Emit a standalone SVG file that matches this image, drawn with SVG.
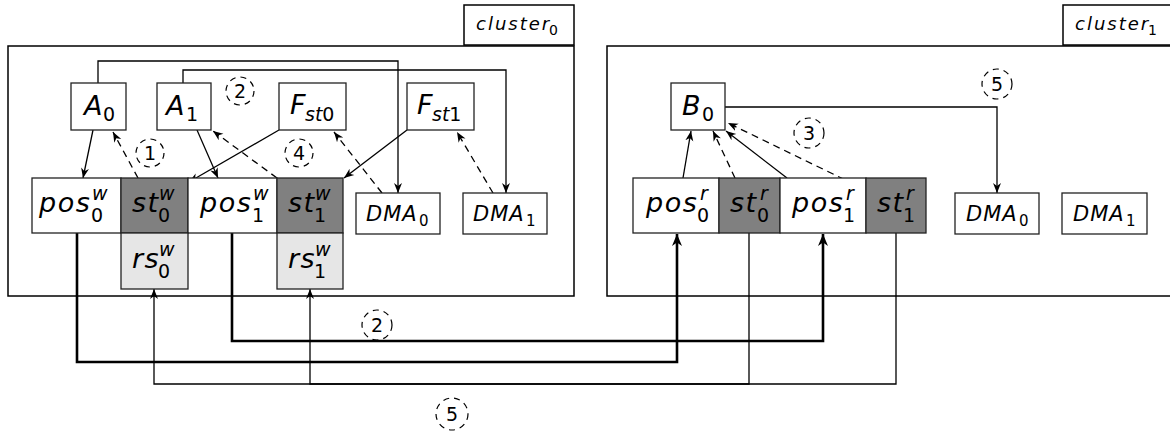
<svg xmlns="http://www.w3.org/2000/svg" width="1170" height="437" viewBox="0 0 1170 437">
<defs>
<marker id="ah" markerUnits="userSpaceOnUse" markerWidth="12" markerHeight="10" refX="10" refY="5" orient="auto" viewBox="0 0 12 10"><path d="M0,1 L10,5 L0,9 L3,5 z" fill="#000"/></marker>
<marker id="ahb" markerUnits="userSpaceOnUse" markerWidth="14" markerHeight="12" refX="12" refY="6" orient="auto" viewBox="0 0 14 12"><path d="M0,1 L12,6 L0,11 L3.5,6 z" fill="#000"/></marker>
<style>
.cl{fill:#fff;stroke:#000;stroke-width:1.5}
.box{fill:#fff;stroke:#222;stroke-width:1.3}
.dk{fill:#808080;stroke:#222;stroke-width:1.3}
.lt{fill:#e6e6e6;stroke:#222;stroke-width:1.3}
.c{fill:none;stroke:#000;stroke-width:1.3}
.a{marker-end:url(#ah)}
.d{stroke-dasharray:7 5}
.t{stroke-width:2.6;marker-end:url(#ahb)}
.m{font-family:"DejaVu Sans",sans-serif;font-style:italic;font-size:27px;letter-spacing:1.5px;fill:#000}
.sb{font-family:"DejaVu Sans",sans-serif;font-style:normal;font-size:19px;letter-spacing:0;fill:#000}
.sp{font-family:"DejaVu Sans",sans-serif;font-style:italic;font-size:19px;fill:#000}
.dm{font-family:"DejaVu Sans",sans-serif;font-style:italic;font-size:21px;letter-spacing:1px;fill:#000}
.dms{font-family:"DejaVu Sans",sans-serif;font-size:15px;fill:#000}
.cn{font-family:"DejaVu Sans",sans-serif;font-style:italic;font-size:18px;letter-spacing:2px;fill:#000}
.cns{font-family:"DejaVu Sans",sans-serif;font-size:14px;fill:#000}
.num{font-family:"DejaVu Sans",sans-serif;font-size:19px;text-anchor:middle;fill:#000}
.circ{fill:none;stroke:#000;stroke-width:1.2;stroke-dasharray:6 5}
</style>
</defs>
<rect width="1170" height="437" fill="#fff"/>

<g id="cluster0">
<rect class="cl" x="8" y="46" width="566" height="250"/>
<rect class="cl" x="464" y="5" width="110" height="40"/>
<text class="cn" x="476" y="30">cluster</text><text class="cns" x="549" y="35">0</text>
</g>
<g id="cluster1">
<rect class="cl" x="607" y="46" width="566" height="250"/>
<rect class="cl" x="1063" y="5" width="110" height="40"/>
<text class="cn" x="1075" y="30">cluster</text><text class="cns" x="1148" y="35">1</text>
</g>

<g id="connectors">
<path class="c a" d="M93,130 L83,178"/>
<path class="c a d" d="M138,178 L113,132"/>
<path class="c a" d="M197,130 L218,178"/>
<path class="c a" d="M279,130 L189,182"/>
<path class="c a d" d="M277,178 L213,131"/>
<path class="c a d" d="M382,193 L334,132"/>
<path class="c a" d="M407,130 L344,178"/>
<path class="c a d" d="M493,193 L457,132"/>
<path class="c a" d="M98,83 V61 H398 V193"/>
<path class="c a" d="M183,83 V70 H506 V193"/>
<path class="c t" d="M77,233 V362 H677 V234"/>
<path class="c t" d="M232,233 V341 H823 V234"/>
<path class="c a" d="M749,233 V384 H154 V289"/>
<path class="c a" d="M896,233 V384 H310 V289"/>
<path class="c a" d="M683,178 L691,131"/>
<path class="c a d" d="M735,178 L713,131"/>
<path class="c a" d="M787,178 L726,131"/>
<path class="c a d" d="M866,190 L728,123"/>
<path class="c a" d="M725,107 H997 V193"/>
</g>

<g id="A0"><rect class="box" x="71" y="83" width="55" height="47"/><text class="m" x="84" y="115">A</text><text class="sb" x="103" y="121">0</text></g>
<g id="A1"><rect class="box" x="157" y="83" width="54" height="47"/><text class="m" x="166" y="115">A</text><text class="sb" x="186" y="121">1</text></g>
<g id="Fst0"><rect class="box" x="279" y="83" width="67" height="47"/><text class="m" x="290" y="114">F</text><text class="sp" x="305" y="121">st<tspan class="sb">0</tspan></text></g>
<g id="Fst1"><rect class="box" x="407" y="83" width="67" height="47"/><text class="m" x="417" y="114">F</text><text class="sp" x="432" y="121">st<tspan class="sb">1</tspan></text></g>

<g id="pos0w"><rect class="box" x="32" y="178" width="89" height="55"/><text class="m" x="39" y="212">pos</text><text class="sb" x="91" y="222">0</text><text class="sp" x="92" y="200">w</text></g>
<g id="st0w"><rect class="dk" x="121" y="178" width="67" height="55"/><text class="m" x="132" y="212">st</text><text class="sb" x="158" y="222">0</text><text class="sp" x="159" y="200">w</text></g>
<g id="pos1w"><rect class="box" x="188" y="178" width="89" height="55"/><text class="m" x="200" y="212">pos</text><text class="sb" x="252" y="222">1</text><text class="sp" x="253" y="200">w</text></g>
<g id="st1w"><rect class="dk" x="277" y="178" width="66" height="55"/><text class="m" x="288" y="212">st</text><text class="sb" x="314" y="222">1</text><text class="sp" x="315" y="200">w</text></g>
<g id="rs0w"><rect class="lt" x="121" y="233" width="67" height="56"/><text class="m" x="132" y="268">rs</text><text class="sb" x="158" y="278">0</text><text class="sp" x="159" y="256">w</text></g>
<g id="rs1w"><rect class="lt" x="277" y="233" width="66" height="56"/><text class="m" x="288" y="268">rs</text><text class="sb" x="314" y="278">1</text><text class="sp" x="315" y="256">w</text></g>
<g id="DMA0w"><rect class="box" x="356" y="193" width="84" height="41"/><text class="dm" x="366" y="221">DMA</text><text class="dms" x="419" y="226">0</text></g>
<g id="DMA1w"><rect class="box" x="463" y="193" width="84" height="41"/><text class="dm" x="473" y="221">DMA</text><text class="dms" x="526" y="226">1</text></g>

<g id="B0"><rect class="box" x="671" y="83" width="54" height="47"/><text class="m" x="682" y="115">B</text><text class="sb" x="702" y="121">0</text></g>
<g id="pos0r"><rect class="box" x="633" y="178" width="86" height="55"/><text class="m" x="646" y="212">pos</text><text class="sb" x="697" y="222">0</text><text class="sp" x="700" y="200">r</text></g>
<g id="st0r"><rect class="dk" x="719" y="178" width="61" height="55"/><text class="m" x="730" y="212">st</text><text class="sb" x="757" y="222">0</text><text class="sp" x="760" y="200">r</text></g>
<g id="pos1r"><rect class="box" x="780" y="178" width="86" height="55"/><text class="m" x="792" y="212">pos</text><text class="sb" x="843" y="222">1</text><text class="sp" x="846" y="200">r</text></g>
<g id="st1r"><rect class="dk" x="866" y="178" width="60" height="55"/><text class="m" x="877" y="212">st</text><text class="sb" x="903" y="222">1</text><text class="sp" x="906" y="200">r</text></g>
<g id="DMA0r"><rect class="box" x="955" y="193" width="84" height="41"/><text class="dm" x="966" y="221">DMA</text><text class="dms" x="1019" y="226">0</text></g>
<g id="DMA1r"><rect class="box" x="1062" y="193" width="85" height="41"/><text class="dm" x="1073" y="221">DMA</text><text class="dms" x="1126" y="226">1</text></g>

<g id="labels">
<circle class="circ" cx="240" cy="91" r="14"/><text class="num" x="240" y="98">2</text>
<circle class="circ" cx="150" cy="153" r="14"/><text class="num" x="150" y="160">1</text>
<circle class="circ" cx="299" cy="153" r="14"/><text class="num" x="299" y="160">4</text>
<circle class="circ" cx="809" cy="133" r="15"/><text class="num" x="809" y="140">3</text>
<circle class="circ" cx="997" cy="84" r="15"/><text class="num" x="997" y="91">5</text>
<circle class="circ" cx="377" cy="325" r="15"/><text class="num" x="377" y="332">2</text>
<circle class="circ" cx="452" cy="414" r="16"/><text class="num" x="452" y="421">5</text>
</g>
</svg>
